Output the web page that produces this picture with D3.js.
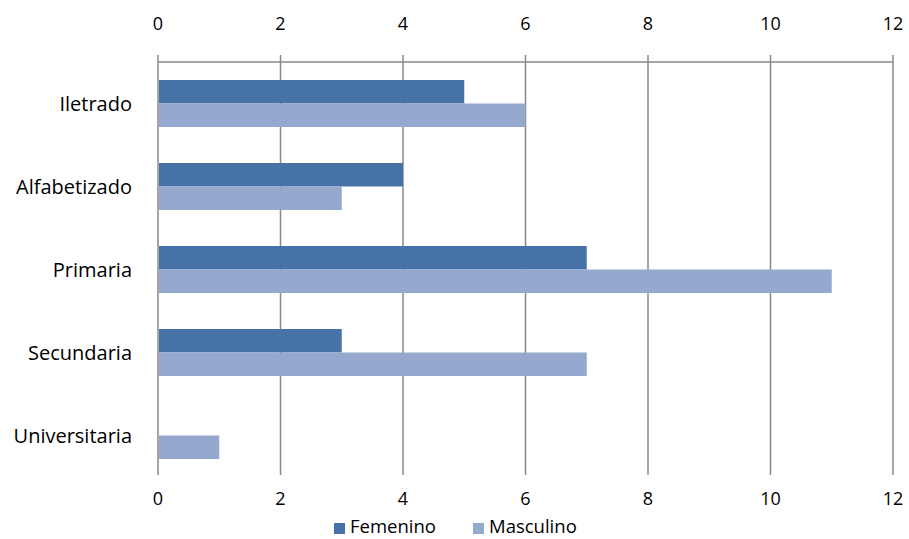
<!DOCTYPE html>
<html><head><meta charset="utf-8">
<script src="https://cdn.jsdelivr.net/npm/d3@7"></script>
<style>body{margin:0;background:#fff}svg{display:block}text{font-family:"Open Sans",sans-serif;fill:#000}</style>
</head><body><svg id="c" width="909" height="539"></svg>
<script>
const categories = ["Iletrado","Alfabetizado","Primaria","Secundaria","Universitaria"];
const seriesNames = ["Femenino","Masculino"];
const femenino = [5,4,7,3,0];
const masculino = [6,3,11,7,1];
const xTicks = [0,2,4,6,8,10,12];
const colors = ["#4672A7","#95A9CF"];

(function(){
const svg = d3.select("#c");
const mL = 158, mR = 893, mT = 62, mB = 477;
const x = d3.scaleLinear().domain([0,12]).range([mL,mR]);
const y = d3.scaleBand().domain(categories).range([mT,mB]);
const inner = d3.scaleBand().domain(seriesNames).range([y.bandwidth()/2-23.5, y.bandwidth()/2+23.5]);

svg.append("g").selectAll("line").data(xTicks).join("line")
  .attr("x1",d=>x(d)).attr("x2",d=>x(d)).attr("y1",55).attr("y2",475)
  .attr("stroke","#888").attr("stroke-width",1.5);
svg.append("line").attr("x1",mL).attr("x2",mR).attr("y1",mT).attr("y2",mT)
  .attr("stroke","#888").attr("stroke-width",1.5);

const data = [femenino, masculino];
data.forEach((vals,si)=>{
  svg.append("g").selectAll("rect").data(vals).join("rect")
    .attr("x",x(0)+1).attr("y",(d,i)=>y(categories[i])+inner(seriesNames[si]))
    .attr("width",d=>Math.max(0,x(d)-x(0)-1)).attr("height",inner.bandwidth())
    .attr("fill",colors[si]);
});

[23,498].forEach(yy=>{
  svg.append("g").selectAll("text").data(xTicks).join("text")
    .attr("x",d=>x(d)).attr("y",yy).attr("text-anchor","middle").attr("dominant-baseline","central")
    .attr("font-size",18).text(d=>d);
});
svg.append("g").selectAll("text").data(categories).join("text")
  .attr("x",132).attr("y",d=>y(d)+y.bandwidth()/2).attr("text-anchor","end").attr("dominant-baseline","central")
  .attr("font-size",20).text(d=>d);

const leg = [{n:"Femenino",x:334},{n:"Masculino",x:473}];
leg.forEach((l,i)=>{
  svg.append("rect").attr("x",l.x).attr("y",523).attr("width",11).attr("height",11).attr("fill",colors[i]);
  svg.append("text").attr("x",l.x+16).attr("y",525).attr("dominant-baseline","central").attr("font-size",18.5).text(l.n);
});
})();
</script></body></html>
